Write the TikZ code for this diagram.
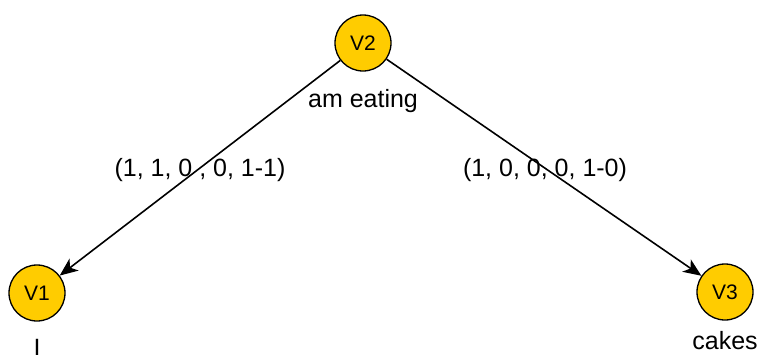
\documentclass[tikz,border=0pt]{standalone}
\usepackage{fontspec}
\setmainfont{Liberation Sans}
\usetikzlibrary{arrows.meta}
\definecolor{vgold}{HTML}{FFCC00}
\tikzset{
  vertex/.style={circle, draw=black, line width=1.3pt, fill=vgold, minimum size=56pt, inner sep=0pt, font=\fontsize{21}{25}\selectfont},
  lbl/.style={font=\fontsize{25}{30}\selectfont, inner sep=0pt},
  edge/.style={line width=1.6pt, -{Stealth[length=18pt, width=15pt, inset=5pt]}}
}
\begin{document}
\begin{tikzpicture}[x=1pt, y=-1pt]
  \useasboundingbox (0,0) rectangle (760,354);
  \node[vertex] (v2) at (363,43) {V2};
  \node[vertex] (v1) at (37,293) {V1};
  \node[vertex] (v3) at (725,292) {V3};
  \node[lbl, anchor=base] (l2) at (363,107) {am eating};
  \node[lbl, anchor=base] (l1) at (37,356) {I};
  \node[lbl, anchor=base] (l3) at (725,349) {cakes};
  \draw[edge] (v2) -- (v1);
  \draw[edge] (v2) -- (v3);
  \node[lbl] (e1) at (200,170) {(1, 1, 0 , 0, 1-1)};
  \node[lbl] (e3) at (545,170) {(1, 0, 0, 0, 1-0)};
\end{tikzpicture}
\end{document}
